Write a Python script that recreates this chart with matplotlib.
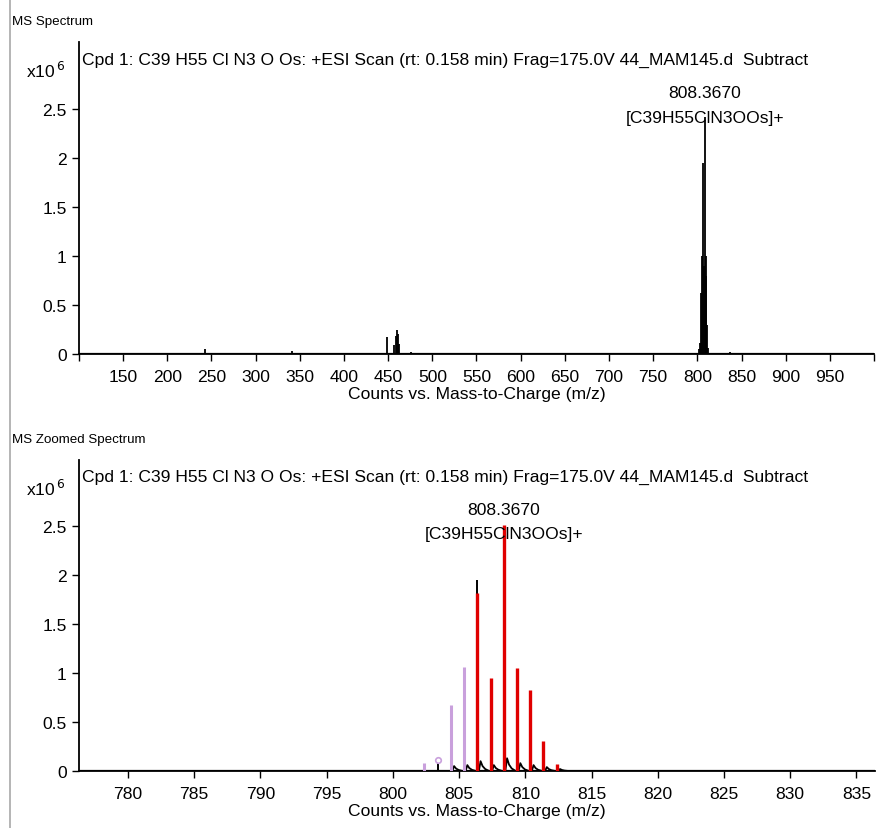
import matplotlib
matplotlib.use("Agg")
import matplotlib.pyplot as plt
from matplotlib import font_manager
from matplotlib.ticker import FixedLocator, FuncFormatter
from matplotlib.lines import Line2D

# ---- data (intensities in units of 10^6 counts) ----
title_text = "Cpd 1: C39 H55 Cl N3 O Os: +ESI Scan (rt: 0.158 min) Frag=175.0V 44_MAM145.d  Subtract"
peak_mz_label = "808.3670"
peak_formula = "[C39H55ClN3OOs]+"
xlabel_text = "Counts vs. Mass-to-Charge (m/z)"

# full-range spectrum (centroid sticks)
full_mz = [242.6, 340.7, 449.0, 457.0, 458.9, 460.0, 461.0, 462.0, 475.5,
           802.37, 803.37, 804.37, 805.37, 806.37, 807.37, 808.37, 809.37,
           810.37, 811.37, 812.37, 836.8]
full_int = [0.05, 0.03, 0.17, 0.09, 0.18, 0.25, 0.20, 0.10, 0.02,
            0.05, 0.11, 0.62, 1.00, 1.95, 0.90, 2.42, 1.00,
            0.80, 0.30, 0.06, 0.02]

# zoomed region: measured isotope peaks
iso_mz = [802.37, 803.37, 804.37, 805.37, 806.37, 807.37, 808.37,
          809.37, 810.37, 811.37, 812.37]
iso_measured = [0.05, 0.11, 0.62, 1.00, 1.95, 0.90, 2.42,
                1.00, 0.80, 0.30, 0.06]
iso_shoulder = [0.0, 0.0, 0.05, 0.06, 0.10, 0.06, 0.13,
                0.08, 0.06, 0.04, 0.02]

# predicted isotope pattern (matched)
pred_mz = [806.37, 807.37, 808.37, 809.37, 810.37, 811.37, 812.37]
pred_int = [1.81, 0.945, 2.505, 1.047, 0.83, 0.31, 0.07]

# predicted isotopes without a match
unmatched_mz = [802.37, 804.37, 805.37]
unmatched_int = [0.08, 0.675, 1.06]
unmatched_small_mz = [803.37]
unmatched_small_int = [0.11]

# minor baseline peaks in the zoomed window
minor_mz = [813.0, 813.6, 826.5, 829.8, 833.2, 834.8]
minor_int = [0.015, 0.01, 0.006, 0.008, 0.008, 0.012]

y_ticks = [0, 0.5, 1, 1.5, 2, 2.5]
x_ticks_full = list(range(100, 1001, 50))
x_ticks_zoom = list(range(780, 836, 5))

# ---- fonts ----
available = {f.name for f in font_manager.fontManager.ttflist}
if "Liberation Sans Narrow" in available:
    base_family = ["Liberation Sans Narrow", "DejaVu Sans"]
    fs = 13.5
else:
    base_family = ["Liberation Sans", "DejaVu Sans"]
    fs = 12.6
plt.rcParams["font.family"] = base_family

RED = "#e00000"
PINK = "#c9a0dc"
FRAME = "#a8a8a8"

fig = plt.figure(figsize=(8.76, 8.29), dpi=100)
W, H = 876, 829


def ax_rect(l, t, r, b):
    return [l / W, 1 - b / H, (r - l) / W, (b - t) / H]


ax1 = fig.add_axes(ax_rect(79, 43, 874, 355))
ax2 = fig.add_axes(ax_rect(79, 461, 875, 772))

# outer frame line
fig.add_artist(Line2D([9.5 / W, 9.5 / W], [0, 1], color=FRAME, lw=1.2))

fig.text(12 / W, 1 - 22 / H, "MS Spectrum", fontsize=9.6, va="center", ha="left")
fig.text(12 / W, 1 - 440 / H, "MS Zoomed Spectrum", fontsize=9.6, va="center", ha="left")


def style_axes(ax, xlim, ylim, xticks, tick_labels):
    ax.set_xlim(*xlim)
    ax.set_ylim(*ylim)
    for s in ("top", "right"):
        ax.spines[s].set_visible(False)
    for s in ("left", "bottom"):
        ax.spines[s].set_linewidth(1.3)
        ax.spines[s].set_color("black")
    ax.yaxis.set_major_locator(FixedLocator(y_ticks))
    ax.yaxis.set_major_formatter(FuncFormatter(lambda v, p: f"{v:g}"))
    ax.xaxis.set_major_locator(FixedLocator(xticks))
    ax.set_xticklabels(tick_labels)
    ax.tick_params(axis="both", direction="out", length=5, width=1.0,
                   labelsize=fs, pad=4)
    ax.tick_params(axis="x", pad=6)
    ax.set_xlabel(xlabel_text, fontsize=fs, labelpad=1)
    ax.text(0.004, 0.97, title_text, transform=ax.transAxes, ha="left",
            va="top", fontsize=fs)
    ax.text(-0.017, 0.91, r"x10$^{\,6}$", transform=ax.transAxes,
            ha="right", va="center", fontsize=fs)


# ---- full spectrum ----
labels_full = ["" if t in (100, 1000) else str(t) for t in x_ticks_full]
style_axes(ax1, (100, 1000), (0, 3.19), x_ticks_full, labels_full)
ax1.plot([100, 1000], [0, 0], color="black", lw=1.6, zorder=2)
ax1.vlines(full_mz, 0, full_int, color="black", lw=1.3, zorder=3)
ax1.text(808.37, 2.67, peak_mz_label, ha="center", va="center", fontsize=fs)
ax1.text(808.37, 2.42, peak_formula, ha="center", va="center", fontsize=fs)

# ---- zoomed spectrum ----
labels_zoom = [str(t) for t in x_ticks_zoom]
style_axes(ax2, (776.3, 836.4), (0, 3.17), x_ticks_zoom, labels_zoom)
ax2.plot([776.3, 836.4], [0, 0], color="black", lw=1.6, zorder=2)
ax2.vlines(minor_mz, 0, minor_int, color="black", lw=1.0, zorder=2)
# measured profile: isotope peak followed by a small decaying shoulder
ax2.vlines(iso_mz, 0, iso_measured, color="black", lw=1.4, zorder=3)
for mz, s in zip(iso_mz, iso_shoulder):
    if s > 0:
        xs = [mz + 0.12, mz + 0.25, mz + 0.4, mz + 0.6, mz + 0.9]
        ys = [0, s, s * 0.5, s * 0.2, 0]
        ax2.plot(xs, ys, color="black", lw=1.3, zorder=3)
ax2.vlines(unmatched_mz, 0, unmatched_int, color=PINK, lw=2.2, zorder=4)
ax2.plot(unmatched_small_mz, unmatched_small_int, marker="o", ms=4,
         mfc="white", mec=PINK, mew=1.2, ls="none", zorder=5)
ax2.vlines(pred_mz, 0, pred_int, color=RED, lw=2.4, zorder=5)
ax2.text(808.37, 2.67, peak_mz_label, ha="center", va="center", fontsize=fs, zorder=6)
ax2.text(808.37, 2.42, peak_formula, ha="center", va="center", fontsize=fs, zorder=6)

fig.savefig("out.png", dpi=100)
